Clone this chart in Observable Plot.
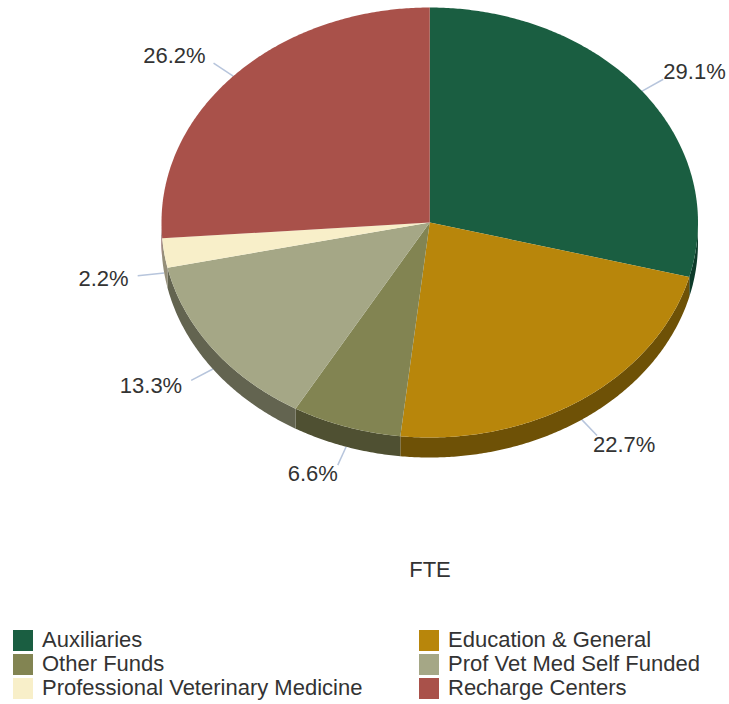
<!DOCTYPE html>
<html>
<head>
<meta charset="utf-8">
<script src="https://cdn.jsdelivr.net/npm/d3@7"></script>
<script src="https://cdn.jsdelivr.net/npm/@observablehq/plot@0.6"></script>
<style>
  html, body { margin: 0; padding: 0; background: #fff; }
  body { width: 729px; font-family: "Liberation Sans", Arial, sans-serif; color: #333; overflow: hidden; }
  svg { display: block; }
  #title { height: 40px; line-height: 40px; font-size: 22px; text-align: center; padding-left: 131px; box-sizing: border-box; }
  #legend { display: grid; grid-template-columns: 406px 1fr; grid-auto-rows: 24px; margin: 38px 0 0 13px; font-size: 22px; }
  .item { display: flex; align-items: center; white-space: nowrap; }
  .sw { width: 20px; height: 21px; margin-right: 9px; flex: none; }
</style>
</head>
<body>
<div id="chart"></div>
<div id="title">FTE</div>
<div id="legend"></div>
<script>
const categories = ["Auxiliaries", "Education & General", "Other Funds", "Prof Vet Med Self Funded", "Professional Veterinary Medicine", "Recharge Centers"];
const shares = [29.1, 22.7, 6.6, 13.3, 2.2, 26.2];
const topColors = ["#1a5e41", "#b8860b", "#828452", "#a5a786", "#f8efc9", "#a9514a"];
const sideColors = ["#0d3b2a", "#6e5106", "#4f5032", "#636450", "#958f79", "#65312c"];
const tickLabels = ["29.1%", "22.7%", "6.6%", "13.3%", "2.2%", "26.2%"];

const total = d3.sum(shares);
const depth = 20 / 215;
const rad = (deg) => (deg * Math.PI) / 180;
const rim = (deg) => [Math.sin(rad(deg)), Math.cos(rad(deg))];
const sweep = (a0, a1) => {
  const n = Math.max(2, Math.ceil((a1 - a0) / 0.5));
  return d3.range(n + 1).map((i) => a0 + ((a1 - a0) * i) / n);
};

let running = 0;
const slices = categories.map((name, i) => {
  const a0 = (running / total) * 360;
  running += shares[i];
  const a1 = (running / total) * 360;
  return { name, a0, a1, mid: (a0 + a1) / 2, top: topColors[i], side: sideColors[i], label: tickLabels[i] };
});

// Outline of each top face and of the visible front wall, in unit-circle coordinates.
const faces = slices.flatMap((s) => [
  { name: s.name, u: 0, v: 0, color: s.top },
  ...sweep(s.a0, s.a1).map((a) => ({ name: s.name, u: rim(a)[0], v: rim(a)[1], color: s.top }))
]);
const walls = slices.filter((s) => s.a1 > 90 && s.a0 < 270).flatMap((s) => {
  const arc = sweep(Math.max(s.a0, 90), Math.min(s.a1, 270));
  return [
    ...arc.map((a) => ({ name: s.name, u: rim(a)[0], v: rim(a)[1], color: s.side })),
    ...arc.reverse().map((a) => ({ name: s.name, u: rim(a)[0], v: rim(a)[1] - depth, color: s.side }))
  ];
});

const drop = (s) => (Math.cos(rad(s.mid)) < 0 ? depth : 0);
const leaders = slices.map((s) => {
  const [u, v] = rim(s.mid);
  return { x1: u, y1: v - drop(s), x2: u * 1.1, y2: v * 1.09 - drop(s) };
});

// Label placement relative to the end of its leader line.
const labelPlacement = [
  { anchor: "start", dx: 0, dy: -7 },
  { anchor: "start", dx: -4, dy: 9 },
  { anchor: "middle", dx: -25, dy: 9 },
  { anchor: "end", dx: -9, dy: 6 },
  { anchor: "end", dx: -9, dy: 3 },
  { anchor: "end", dx: -8, dy: -7 }
];
const labelMarks = slices.map((s, i) => {
  const p = labelPlacement[i];
  return Plot.text([leaders[i]], {
    x: "x2", y: "y2", text: () => s.label,
    textAnchor: p.anchor, dx: p.dx, dy: p.dy,
    fontSize: 22, fill: "#333333"
  });
});

const plot = Plot.plot({
  width: 729,
  height: 550,
  margin: 0,
  style: { background: "transparent", fontFamily: '"Liberation Sans", Arial, sans-serif' },
  x: { domain: [-1, 1], range: [161, 697.5], axis: null },
  y: { domain: [-1, 1], range: [437, 7], axis: null },
  marks: [
    Plot.link(leaders, { x1: "x1", y1: "y1", x2: "x2", y2: "y2", stroke: "#b7c5dc", strokeWidth: 1.5 }),
    Plot.line(walls, { x: "u", y: "v", z: "name", fill: "color", stroke: "none" }),
    Plot.line(faces, { x: "u", y: "v", z: "name", fill: "color", stroke: "none" }),
    ...labelMarks
  ]
});
document.getElementById("chart").appendChild(plot);

const legend = document.getElementById("legend");
categories.forEach((name, i) => {
  const item = document.createElement("div");
  item.className = "item";
  const sw = document.createElement("span");
  sw.className = "sw";
  sw.style.background = topColors[i];
  const tx = document.createElement("span");
  tx.textContent = name;
  item.append(sw, tx);
  legend.append(item);
});
</script>
</body>
</html>
